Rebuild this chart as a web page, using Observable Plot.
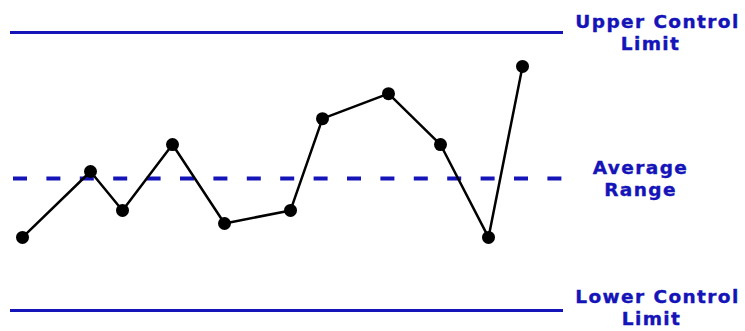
<!DOCTYPE html>
<html>
<head>
<meta charset="utf-8">
<script src="https://cdn.jsdelivr.net/npm/d3@7"></script>
<script src="https://cdn.jsdelivr.net/npm/@observablehq/plot@0.6"></script>
<style>
  html, body { margin: 0; padding: 0; background: #fff; }
  #chart svg { display: block; }
  #chart svg text { letter-spacing: 1.4px; }
</style>
</head>
<body>
<div id="chart"></div>
<script>
// Sample times (arbitrary units) and measured ranges
const sampleTime = [2.2, 9.0, 12.2, 17.2, 22.4, 29.0, 32.2, 38.8, 44.0, 48.8, 52.2];
const sampleRange = [2.63, 5.0, 3.6, 5.97, 3.13, 3.6, 6.9, 7.8, 5.97, 2.63, 8.78];

// Control limits
const limitValues = [10, 4.75, 0];
const labelLine1 = ["Upper Control", "Average", "Lower Control"];
const labelLine2 = ["Limit", "Range", "Limit"];
const label1X = [65.7, 64.0, 65.7];
const label2X = [65.0, 64.0, 65.1];
const labelY = [10, 4.75, 0.14];
const limitStart = 1.0;
const limitEnd = 56.3;

const points = sampleTime.map((t, i) => ({t, r: sampleRange[i]}));
const solidLimits = limitValues.filter((v, i) => i !== 1).map(v => ({v}));
const avgLimit = [{v: limitValues[1]}];
const labels1 = labelLine1.map((s, i) => ({s, x: label1X[i], y: labelY[i]}));
const labels2 = labelLine2.map((s, i) => ({s, x: label2X[i], y: labelY[i]}));

const blue = "#1414b8";
const textStyle = {
  fill: blue, stroke: blue, strokeWidth: 0.4,
  fontSize: 18.5, fontWeight: "bold", fontFamily: "DejaVu Sans",
  textAnchor: "middle", lineAnchor: "middle"
};

const chart = Plot.plot({
  width: 745,
  height: 331,
  marginTop: 0, marginRight: 0, marginBottom: 0, marginLeft: 0,
  x: {domain: [0, 74.5], range: [0, 745], axis: null},
  y: {domain: [0, 10], range: [310, 32], axis: null},
  style: {background: "#fff"},
  marks: [
    Plot.ruleY(solidLimits, {y: "v", x1: limitStart, x2: limitEnd, stroke: blue, strokeWidth: 3}),
    Plot.ruleY(avgLimit, {y: "v", x1: 1.3, x2: limitEnd, stroke: blue, strokeWidth: 4, strokeDasharray: "14,19.4"}),
    Plot.line(points, {x: "t", y: "r", stroke: "black", strokeWidth: 2.5}),
    Plot.dot(points, {x: "t", y: "r", r: 6.5, fill: "black", stroke: "none"}),
    Plot.text(labels1, {x: "x", y: "y", text: "s", dy: -10, ...textStyle}),
    Plot.text(labels2, {x: "x", y: "y", text: "s", dy: 12, ...textStyle})
  ]
});
document.getElementById("chart").appendChild(chart);
</script>
</body>
</html>
